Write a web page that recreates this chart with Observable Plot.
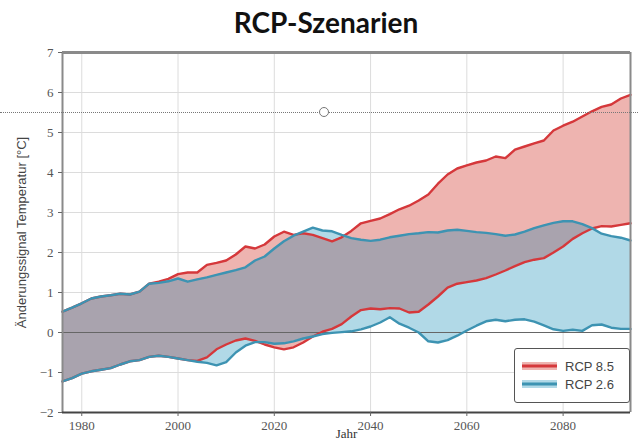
<!DOCTYPE html>
<html><head><meta charset="utf-8">
<script src="https://cdn.jsdelivr.net/npm/d3@7"></script>
<script src="https://cdn.jsdelivr.net/npm/@observablehq/plot@0.6"></script>
<style>
body{margin:0;background:#fff;}
#wrap{position:relative;width:638px;height:445px;overflow:hidden;background:#fff;}
#title{position:absolute;left:0;width:652px;top:5px;line-height:34px;text-align:center;font:700 28px Lato,"Open Sans",sans-serif;color:#111;}
#chart{position:absolute;left:0;top:0;}
#dots{position:absolute;left:0;top:112px;width:638px;border-top:1px dotted #777;}
#knob{position:absolute;left:319px;top:107px;width:8px;height:8px;border:1.3px solid #777;border-radius:50%;background:#fff;}
#legend{position:absolute;left:514px;top:348px;width:114px;height:53px;border:1.5px solid #555;border-radius:3px;background:#fff;font:13px "Liberation Sans",Arial,sans-serif;color:#444;}
.item{position:absolute;left:7px;height:12px;display:flex;align-items:center;}
.item svg{margin-right:8px;}
</style></head><body><div id="wrap">
<div id="chart"></div>
<div id="dots"></div><div id="knob"></div>
<div id="title">RCP-Szenarien</div>
<div id="legend"></div>
</div>
<script>
const years = [1976,1978,1980,1982,1984,1986,1988,1990,1992,1994,1996,1998,2000,2002,2004,2006,2008,2010,2012,2014,2016,2018,2020,2022,2024,2026,2028,2030,2032,2034,2036,2038,2040,2042,2044,2046,2048,2050,2052,2054,2056,2058,2060,2062,2064,2066,2068,2070,2072,2074,2076,2078,2080,2082,2084,2086,2088,2090,2092,2094];
const rcp85Hi = [0.52,0.62,0.73,0.85,0.90,0.93,0.97,0.95,1.02,1.22,1.27,1.34,1.46,1.50,1.50,1.69,1.74,1.80,1.95,2.15,2.10,2.20,2.40,2.52,2.44,2.48,2.44,2.36,2.28,2.38,2.54,2.73,2.79,2.85,2.96,3.08,3.17,3.30,3.45,3.72,3.95,4.10,4.18,4.25,4.30,4.40,4.36,4.57,4.65,4.73,4.80,5.05,5.17,5.27,5.40,5.53,5.64,5.70,5.85,5.94];
const rcp85Lo = [-1.22,-1.14,-1.03,-0.97,-0.93,-0.89,-0.80,-0.72,-0.69,-0.61,-0.58,-0.61,-0.65,-0.69,-0.71,-0.62,-0.42,-0.30,-0.20,-0.15,-0.21,-0.30,-0.37,-0.42,-0.37,-0.25,-0.10,0.02,0.09,0.21,0.40,0.56,0.60,0.58,0.61,0.60,0.50,0.52,0.70,0.90,1.12,1.22,1.26,1.30,1.36,1.45,1.55,1.66,1.76,1.82,1.86,2.00,2.15,2.34,2.48,2.60,2.66,2.65,2.69,2.73];
const rcp26Hi = [0.52,0.62,0.73,0.85,0.90,0.93,0.97,0.95,1.02,1.22,1.24,1.28,1.35,1.27,1.33,1.38,1.44,1.50,1.56,1.63,1.80,1.90,2.10,2.28,2.42,2.52,2.62,2.55,2.53,2.44,2.36,2.32,2.29,2.32,2.38,2.42,2.46,2.48,2.51,2.50,2.55,2.57,2.54,2.51,2.49,2.46,2.42,2.45,2.52,2.61,2.68,2.74,2.78,2.78,2.71,2.61,2.47,2.41,2.37,2.30];
const rcp26Lo = [-1.22,-1.14,-1.03,-0.97,-0.93,-0.89,-0.80,-0.72,-0.69,-0.61,-0.58,-0.61,-0.65,-0.69,-0.73,-0.76,-0.82,-0.74,-0.50,-0.33,-0.24,-0.24,-0.28,-0.27,-0.22,-0.15,-0.10,-0.04,-0.01,0.01,0.03,0.08,0.15,0.25,0.38,0.22,0.12,0.00,-0.22,-0.25,-0.19,-0.08,0.05,0.17,0.28,0.32,0.28,0.32,0.33,0.27,0.18,0.08,0.04,0.07,0.04,0.18,0.20,0.12,0.09,0.09];
const xTicks = [1980,2000,2020,2040,2060,2080];
const yTicks = [-2,-1,0,1,2,3,4,5,6,7];
const xDomain = [1976, 2094];
const yDomain = [-2, 7];
const seriesNames = ["RCP 8.5", "RCP 2.6"];
const titleText = "RCP-Szenarien";
const yLabel = "Änderungssignal Temperatur [°C]";
const xLabel = "Jahr";

const C = {pink:"#eeb4b0", blue:"#b1d9e7", over:"#a9a3ae", red:"#d5383b", teal:"#3d93b2"};

const rows = years.map((year, i) => {
  const lo = Math.max(rcp85Lo[i], rcp26Lo[i]);
  const hi = Math.min(rcp85Hi[i], rcp26Hi[i]);
  return {year, r85lo: rcp85Lo[i], r85hi: rcp85Hi[i], r26lo: rcp26Lo[i], r26hi: rcp26Hi[i],
    olo: hi > lo ? lo : NaN, ohi: hi > lo ? hi : NaN};
});

const chart = Plot.plot({
  width: 638, height: 445,
  marginTop: 52, marginBottom: 33, marginLeft: 62, marginRight: 8,
  x: {domain: xDomain},
  y: {domain: yDomain},
  style: {background: "transparent", fontFamily: "'Liberation Serif', 'Times New Roman', serif", fontSize: "13px", color: "#555"},
  marks: [
    Plot.gridY(yTicks, {stroke: "#dcdcdc", strokeOpacity: 1, strokeWidth: 1}),
    Plot.gridX(xTicks, {stroke: "#dcdcdc", strokeOpacity: 1, strokeWidth: 1}),
    Plot.areaY(rows, {x: "year", y1: "r85lo", y2: "r85hi", fill: C.pink}),
    Plot.areaY(rows, {x: "year", y1: "r26lo", y2: "r26hi", fill: C.blue}),
    Plot.areaY(rows, {x: "year", y1: "olo", y2: "ohi", fill: C.over}),
    Plot.ruleY([0], {stroke: "#666", strokeWidth: 1}),
    Plot.lineY(rows, {x: "year", y: "r85hi", stroke: C.red, strokeWidth: 2.4}),
    Plot.lineY(rows, {x: "year", y: "r85lo", stroke: C.red, strokeWidth: 2.4}),
    Plot.lineY(rows, {x: "year", y: "r26hi", stroke: C.teal, strokeWidth: 2.4}),
    Plot.lineY(rows, {x: "year", y: "r26lo", stroke: C.teal, strokeWidth: 2.4}),
    Plot.ruleY([yDomain[1]], {stroke: "#8a8a8a", strokeWidth: 3}),
    Plot.ruleX([xDomain[1]], {stroke: "#8a8a8a", strokeWidth: 2}),
    Plot.ruleX([xDomain[0]], {stroke: "#8a8a8a", strokeWidth: 2}),
    Plot.ruleY([yDomain[0]], {stroke: "#444", strokeWidth: 2}),
    Plot.axisY(yTicks, {tickSize: 4, tickPadding: 5, label: null, stroke: "#666", fill: "#555"}),
    Plot.axisX(xTicks, {tickSize: 4, tickPadding: 4, label: null, tickFormat: "d", stroke: "#666", fill: "#555"}),
    Plot.text([yLabel], {frameAnchor: "left", textAnchor: "middle", rotate: -90, dx: -41, fontFamily: "'Liberation Sans', Arial, sans-serif", fontSize: 13, fill: "#444"}),
    Plot.text([xLabel], {frameAnchor: "bottom", dy: 25, fontSize: 13, fill: "#333"})
  ]
});
document.getElementById("chart").appendChild(chart);
document.getElementById("title").textContent = titleText;

const legend = document.getElementById("legend");
const swatch = [[C.pink, C.red], [C.blue, C.teal]];
seriesNames.forEach((name, i) => {
  const d = document.createElement("div");
  d.className = "item";
  d.style.top = (i === 0 ? 11 : 29) + "px";
  d.innerHTML = `<svg width="35" height="10"><rect x="0" y="1" width="35" height="8" fill="${swatch[i][0]}"/><line x1="0" x2="35" y1="5" y2="5" stroke="${swatch[i][1]}" stroke-width="3"/></svg><span>${name}</span>`;
  legend.appendChild(d);
});
</script>
</body></html>
